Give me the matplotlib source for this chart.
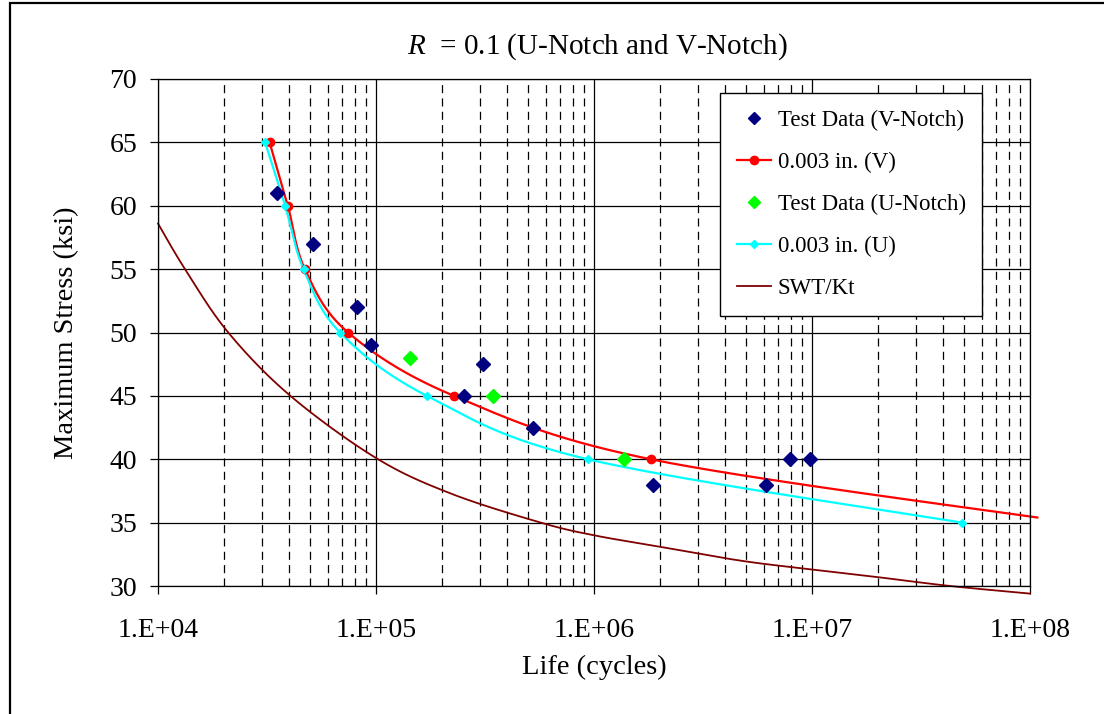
import numpy as np
import matplotlib
matplotlib.use("Agg")
import matplotlib.pyplot as plt
from matplotlib.lines import Line2D
from matplotlib.patches import Rectangle
from matplotlib.ticker import FixedLocator, FuncFormatter, NullFormatter

plt.rcParams['font.family'] = ['Liberation Serif', 'DejaVu Serif']
plt.rcParams['mathtext.fontset'] = 'custom'
plt.rcParams['mathtext.it'] = 'Liberation Serif:italic'
plt.rcParams['mathtext.rm'] = 'Liberation Serif'
plt.rcParams['lines.scale_dashes'] = False

# ---------------- data ----------------
v_test_life = [3.51e4, 5.16e4, 8.17e4, 9.47e4, 2.52e5, 3.08e5, 5.23e5, 1.87e6, 6.12e6, 7.94e6, 9.75e6]
v_test_stress = [61, 57, 52, 49, 45, 47.5, 42.5, 38, 38, 40, 40]

u_test_life = [1.43e5, 3.45e5, 1.38e6]
u_test_stress = [48, 45, 40]

v_model_life = [3.25e4, 3.94e4, 4.72e4, 7.45e4, 2.28e5, 1.82e6, 1.58e8]
v_model_stress = [65, 60, 55, 50, 45, 40, 35]

u_model_life = [3.10e4, 3.83e4, 4.65e4, 6.84e4, 1.714e5, 9.37e5, 4.87e7]
u_model_stress = [65, 60, 55, 50, 45, 40, 35]

swt_life = [1.0e4, 1.33e4, 2.1e4, 4.05e4, 1.0e5, 2.2e5, 5.7e5, 1.0e6, 2.0e6, 4.7e6, 1.0e7, 2.0e7, 4.3e7, 1.0e8]
swt_stress = [58.6, 55, 50, 45, 40.1, 37.3, 35, 34.0, 33.1, 32.0, 31.3, 30.7, 30.0, 29.4]

x_ticks = [1e4, 1e5, 1e6, 1e7, 1e8]
x_tick_labels = ["1.E+04", "1.E+05", "1.E+06", "1.E+07", "1.E+08"]
y_ticks = [30, 35, 40, 45, 50, 55, 60, 65, 70]

legend_labels = ["Test Data (V-Notch)", "0.003 in. (V)", "Test Data (U-Notch)", "0.003 in. (U)", "SWT/Kt"]

NAVY = "#000080"
RED = "#FF0000"
GREEN = "#00FF00"
CYAN = "#00FFFF"
MAROON = "#800000"


def smooth(life, stress, n=300):
    """Excel-like smoothed line (Catmull-Rom Bezier) in log10(N)-S space."""
    px = np.log10(np.asarray(life, float))
    py = np.asarray(stress, float)
    P = np.column_stack([px, py])
    out = []
    m = len(P)
    for i in range(m - 1):
        p0 = P[i - 1] if i > 0 else P[i]
        p1 = P[i]
        p2 = P[i + 1]
        p3 = P[i + 2] if i + 2 < m else P[i + 1]
        c1 = p1 + (p2 - p0) / 6.0
        c2 = p2 - (p3 - p1) / 6.0
        t = np.linspace(0, 1, n)[:, None]
        seg = ((1 - t) ** 3) * p1 + 3 * ((1 - t) ** 2) * t * c1 + 3 * (1 - t) * t ** 2 * c2 + t ** 3 * p2
        if i > 0:
            seg = seg[1:]
        out.append(seg)
    out = np.vstack(out)
    return 10 ** out[:, 0], out[:, 1]


fig = plt.figure(figsize=(11.04, 7.14), dpi=100)
fig.patch.set_facecolor("white")
ax = fig.add_axes([158 / 1104, 1 - 586 / 714, (1030 - 158) / 1104, (586 - 79) / 714])

ax.set_xscale("log")
ax.set_xlim(1e4, 1e8)
ax.set_ylim(30, 70)

# grid
ax.xaxis.set_major_locator(FixedLocator(x_ticks))
ax.xaxis.set_minor_locator(FixedLocator([k * 10 ** e for e in range(4, 8) for k in range(2, 10)]))
ax.xaxis.set_major_formatter(FuncFormatter(lambda v, p: x_tick_labels[x_ticks.index(v)] if v in x_ticks else ""))
ax.xaxis.set_minor_formatter(NullFormatter())
ax.yaxis.set_major_locator(FixedLocator(y_ticks))
ax.grid(True, which="major", axis="both", color="black", linewidth=0.9, linestyle="-", zorder=0)
ax.grid(True, which="minor", axis="x", color="black", linewidth=0.9, linestyle=(0, (5.8, 3.8)), zorder=0)
ax.set_axisbelow(True)

ax.tick_params(axis="both", which="major", direction="out", length=6, width=0.9, color="black",
               labelsize=20)
ax.tick_params(axis="x", which="major", pad=17)
ax.tick_params(axis="y", which="major", pad=9)
ax.tick_params(axis="x", which="minor", length=0)
for s in ax.spines.values():
    s.set_color("black")
    s.set_linewidth(0.9)

# smoothed model curves
vx, vy = smooth(v_model_life, v_model_stress)
keep = vx <= 10 ** 8.035
ax.plot(vx[keep], vy[keep], color=RED, lw=1.6, zorder=2, clip_on=False)
ux, uy = smooth(u_model_life, u_model_stress)
ax.plot(ux, uy, color=CYAN, lw=1.6, zorder=2)
sx, sy = smooth(swt_life, swt_stress)
ax.plot(sx, sy, color=MAROON, lw=1.3, zorder=2, clip_on=False)

# markers
vm = [(l, s) for l, s in zip(v_model_life, v_model_stress) if l <= 1e8]
ax.plot([a for a, b in vm], [b for a, b in vm], linestyle="none", marker="o", ms=6, color=RED, zorder=3)
ax.plot(u_model_life, u_model_stress, linestyle="none", marker="D", ms=4.2, color=CYAN, zorder=4)
ax.plot(v_test_life, v_test_stress, linestyle="none", marker="D", ms=7.5, color=NAVY, zorder=5)
ax.plot(u_test_life, u_test_stress, linestyle="none", marker="D", ms=7.5, color=GREEN, zorder=5)

# legend
handles = [
    Line2D([], [], linestyle="none", marker="D", ms=6.5, color=NAVY),
    Line2D([], [], color=RED, lw=1.6, marker="o", ms=6),
    Line2D([], [], linestyle="none", marker="D", ms=6.5, color=GREEN),
    Line2D([], [], color=CYAN, lw=1.6, marker="D", ms=4.2),
    Line2D([], [], color=MAROON, lw=1.3),
]
leg = ax.legend(handles, legend_labels, loc="upper left", bbox_to_anchor=((720 - 158) / 872, (586 - 93) / 507),
                borderaxespad=0, frameon=True, fancybox=False, shadow=False, fontsize=16.5,
                labelspacing=0.92, handlelength=1.5, handletextpad=0.3, borderpad=0.72, numpoints=1,
                framealpha=1, edgecolor="black")
leg.get_frame().set_linewidth(1.0)
leg.set_zorder(10)

# labels
ax.set_xlabel("Life (cycles)", fontsize=20.5)
ax.xaxis.set_label_coords((594 - 158) / 872, (586 - 667) / 507)
ax.set_ylabel("Maximum Stress (ksi)", fontsize=20.5)
ax.yaxis.set_label_coords((67 - 158) / 872, 0.5)
ax.yaxis.label.set_va("center")
ax.xaxis.label.set_va("center")

fig.text(597 / 1104, 1 - 47 / 714, r"$R$  = 0.1 (U-Notch and V-Notch)", ha="center", va="center", fontsize=21)

# outer chart frame
fig.patches.append(Rectangle((9.5 / 1104, -0.2), 1.5, 1.2 - 2.5 / 714, transform=fig.transFigure,
                             fill=False, edgecolor="black", linewidth=1.6))

fig.savefig("out.png", dpi=100)
